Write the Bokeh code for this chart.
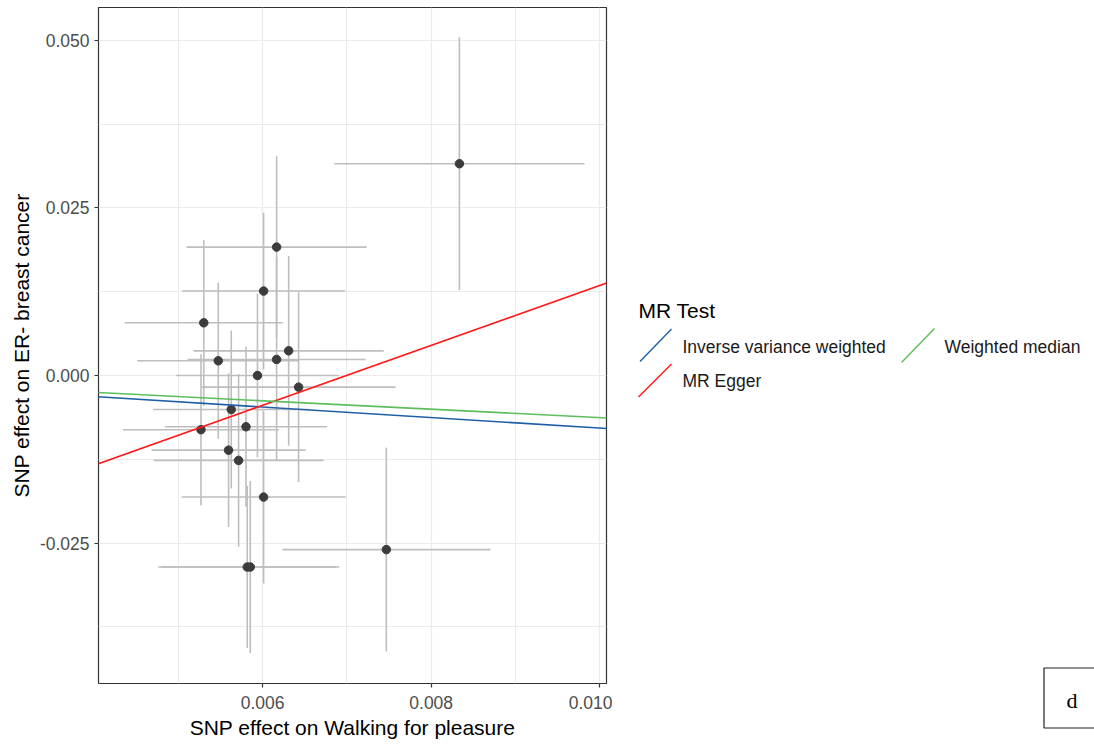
from bokeh.plotting import figure
from bokeh.layouts import row, column
from bokeh.models import Range1d, FixedTicker, PrintfTickFormatter, Slope, ColumnDataSource
from bokeh.core.properties import value
from bokeh.embed import file_html
from bokeh.resources import INLINE

# ---- data ----
beta_exposure = [0.008335, 0.006166, 0.006012, 0.005302, 0.006309, 0.005474, 0.006166, 0.005939,
                 0.006427, 0.005628, 0.005803, 0.005269, 0.005596, 0.005715, 0.006012, 0.007468,
                 0.005818, 0.005854]
beta_outcome = [0.03160, 0.01916, 0.01260, 0.00786, 0.00368, 0.00219, 0.00239, 0.00000,
                -0.00174, -0.00507, -0.00765, -0.00809, -0.01114, -0.01267, -0.01814, -0.02598,
                -0.02858, -0.02858]
se_exposure = [0.001484, 0.001069, 0.000967, 0.000938, 0.001128, 0.000961, 0.001056, 0.000967,
               0.001151, 0.000926, 0.000961, 0.000926, 0.000914, 0.001009, 0.000973, 0.001234,
               0.001056, 0.001056]
se_outcome = [0.01886, 0.01357, 0.01170, 0.01237, 0.01416, 0.01163, 0.01506, 0.01222,
              0.01416, 0.01178, 0.01193, 0.01126, 0.01148, 0.01290, 0.01290, 0.01521,
              0.01208, 0.01282]

methods = ["Inverse variance weighted", "MR Egger", "Weighted median"]
slopes = [-0.785, 4.474, -0.629]
intercepts = [0.0, -0.03130, 0.0]
colors = ["#1F5FA6", "#FF1A1A", "#5DBE5D"]

x_ticks = [0.006, 0.008, 0.010]
x_minor = [0.005, 0.007, 0.009]
y_ticks = [-0.025, 0.0, 0.025, 0.050]
y_minor = [-0.0375, -0.0125, 0.0125, 0.0375]

FONT = "Liberation Sans"

src = ColumnDataSource(dict(
    x=beta_exposure, y=beta_outcome,
    x0=[a - b for a, b in zip(beta_exposure, se_exposure)],
    x1=[a + b for a, b in zip(beta_exposure, se_exposure)],
    y0=[a - b for a, b in zip(beta_outcome, se_outcome)],
    y1=[a + b for a, b in zip(beta_outcome, se_outcome)],
))

p = figure(width=612, height=744, output_backend="svg", toolbar_location=None,
           x_range=Range1d(0.004053, 0.01008), y_range=Range1d(-0.04596, 0.05491),
           min_border_left=98, min_border_right=6, min_border_top=7, min_border_bottom=61)
p.background_fill_color = "white"
p.outline_line_color = "#333333"
p.outline_line_width = 1.2

# error bars
p.segment(x0="x", x1="x", y0="y0", y1="y1", source=src, line_color="#BEBEBE", line_width=1.6)
p.segment(x0="x0", x1="x1", y0="y", y1="y", source=src, line_color="#BEBEBE", line_width=1.6)
# points
p.scatter("x", "y", source=src, size=8.5, fill_color="#3C3C3C", line_color="#3C3C3C")

# regression lines
for m, s, b, c in zip(methods, slopes, intercepts, colors):
    p.add_layout(Slope(gradient=s, y_intercept=b, line_color=c, line_width=1.6))

# axes
for ax, ticks, minor in ((p.xaxis[0], x_ticks, x_minor), (p.yaxis[0], y_ticks, y_minor)):
    ax.ticker = FixedTicker(ticks=ticks, minor_ticks=minor)
    ax.formatter = PrintfTickFormatter(format="%.3f")
    ax.axis_line_color = None
    ax.major_tick_line_color = "#333333"
    ax.major_tick_line_width = 1.2
    ax.major_tick_out = 4
    ax.major_tick_in = 0
    ax.minor_tick_line_color = None
    ax.major_label_text_color = "#4D4D4D"
    ax.major_label_text_font = FONT
    ax.major_label_text_font_size = "17.5px"
    ax.axis_label_text_font = FONT
    ax.axis_label_text_font_size = "21px"
    ax.axis_label_text_font_style = "normal"
    ax.axis_label_text_color = "black"

p.xaxis.axis_label = "SNP effect on Walking for pleasure"
p.yaxis.axis_label = "SNP effect on ER- breast cancer"
p.xaxis.major_label_standoff = 8
p.yaxis.major_label_standoff = 5
p.xaxis.axis_label_standoff = 4
p.yaxis.axis_label_standoff = 4

p.grid.grid_line_color = "#EBEBEB"
p.grid.grid_line_width = 1.2
p.grid.minor_grid_line_color = "#EBEBEB"
p.grid.minor_grid_line_width = 1.0

# ---- legend panel (screen-like coordinates) ----
q = figure(width=482, height=744, output_backend="svg", toolbar_location=None, title=None,
           x_range=Range1d(612, 1094), y_range=Range1d(744, 0),
           min_border_left=0, min_border_right=0, min_border_top=0, min_border_bottom=0)
q.axis.visible = False
q.grid.visible = False
q.outline_line_color = None

q.text(x=[638], y=[309.5], text=["MR Test"], text_baseline="alphabetic",
       text_font=value(FONT), text_font_size="21px", text_color="black")

key_x0 = [639.5, 901, 638]
key_y0 = [361, 362, 396.5]
key_x1 = [671, 934, 671]
key_y1 = [328.5, 328, 363.5]
leg_order = [0, 2, 1]  # IVW, Weighted median, MR Egger
q.segment(x0=key_x0, y0=key_y0, x1=key_x1, y1=key_y1,
          line_color=[colors[i] for i in leg_order], line_width=1.4)
q.text(x=[682, 944, 682], y=[346.5, 346.5, 380],
       text=[methods[i] for i in leg_order], text_baseline="alphabetic",
       text_font=value(FONT), text_font_size="17.5px", text_color="#1A1A1A")

# panel letter box
q.quad(left=[1043.5], right=[1100], top=[667.5], bottom=[727.5],
       fill_color="white", line_color="#222222", line_width=1.2)
q.text(x=[1071.5], y=[700], text=["d"], text_align="center", text_baseline="middle",
       text_font=value("Liberation Serif"), text_font_size="22px", text_color="black")

layout = row(p, column(q), spacing=0)
open("out.html", "w").write(file_html(layout, INLINE))
